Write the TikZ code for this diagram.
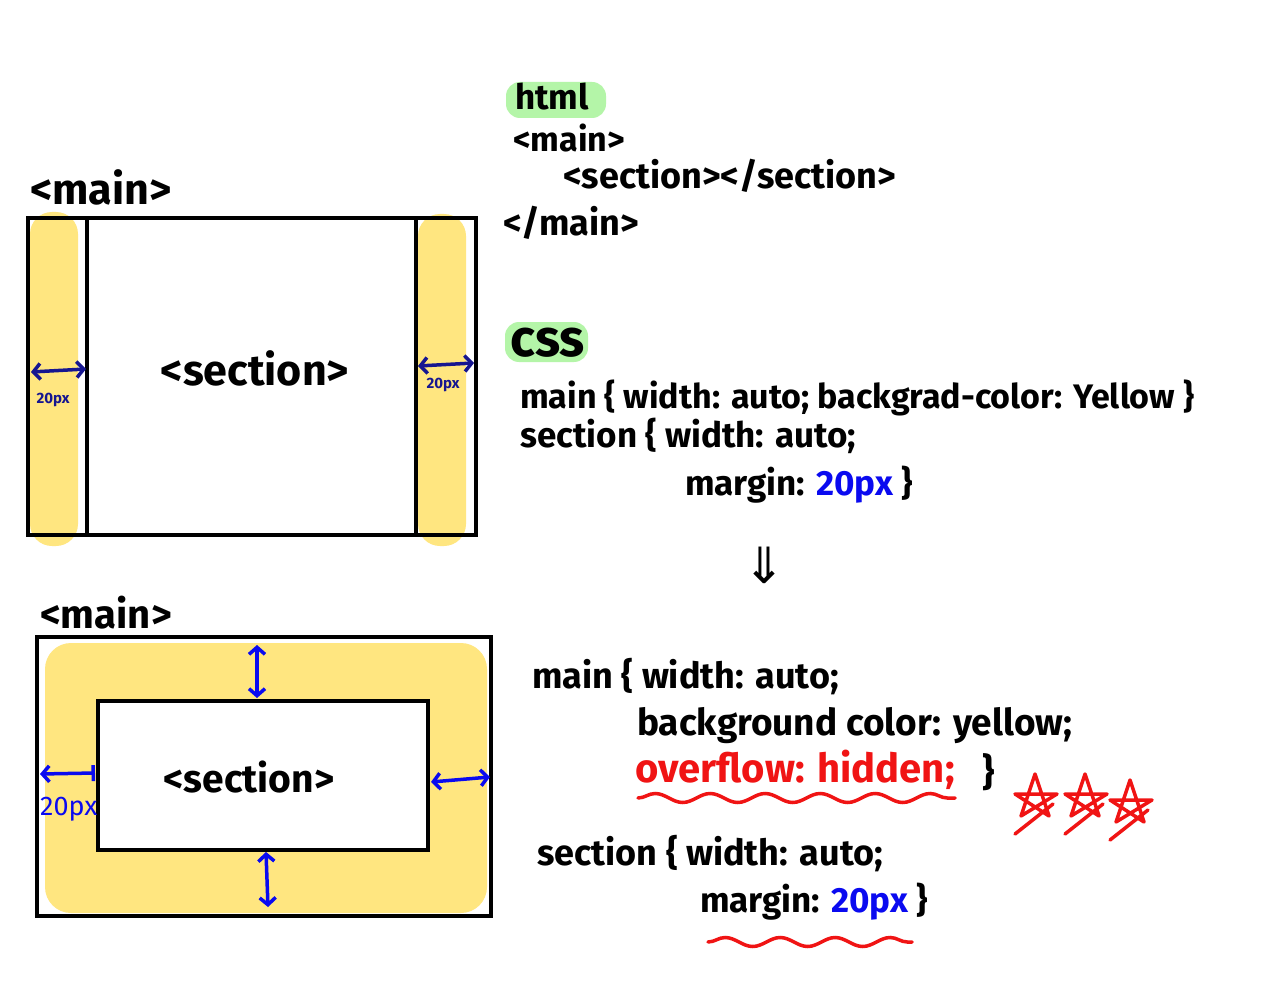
\documentclass[tikz,border=0pt]{standalone}
\usepackage{fontspec}
\setmainfont{Fira Sans}
\newfontfamily\dejavu{DejaVu Sans}
\usetikzlibrary{arrows.meta,decorations.pathmorphing,fit}
\definecolor{hlyellow}{HTML}{FFE680}
\definecolor{hlgreen}{HTML}{B4F5A8}
\definecolor{penblue}{HTML}{0A0AF0}
\definecolor{navy}{HTML}{161690}
\definecolor{penred}{HTML}{F01414}
\newcommand{\fs}[1]{\fontsize{#1}{#1}\selectfont\bfseries}
\begin{document}
\begin{tikzpicture}[x=1pt,y=-1pt,
  box/.style={draw=black,line width=4pt,inner sep=0pt},
  txt/.style={inner sep=0pt,anchor=base west},
  ctr/.style={inner sep=0pt,anchor=center},
  darr/.style={line width=3.5pt,{Straight Barb[length=7pt,width=16pt]}-{Straight Barb[length=7pt,width=16pt]}},
  hl/.style={rounded corners=14pt},
  wavy/.style={draw=penred,line width=3.5pt,line cap=round,decorate,decoration={snake,amplitude=4.5pt,segment length=55pt}},
  starpen/.style={draw=penred,line width=3.5pt,line cap=round,line join=round}]
\path[use as bounding box,fill=white] (0,0) rectangle (1282,1000);

% ---------- top-left diagram ----------
\node[txt] (mainlabel1) at (30,205) {\fs{43}<main>};
\fill[hlyellow,rounded corners=22pt] (30,212) rectangle (78,546);
\fill[hlyellow,rounded corners=22pt] (418,214) rectangle (466,546);
\node[box,fit={(28,218) (476,535)}] (main1) {};
\node[box,fit={(87,218) (416,535)}] (section1) {};
\node[ctr] (sectiontext1) at (255,368) {\fs{43}<section>};
\coordinate (l1a) at (31,372); \coordinate (l1b) at (86,369);
\coordinate (r1a) at (418,366); \coordinate (r1b) at (474,363);
\draw[darr,navy] (l1a) -- (l1b);
\draw[darr,navy] (r1a) -- (r1b);
\node[ctr,text=navy] (px1) at (53,400) {\fs{15}20px};
\node[ctr,text=navy] (px2) at (443,385) {\fs{15}20px};

% ---------- bottom-left diagram ----------
\node[txt] (mainlabel2) at (40,628) {\fs{40}<main>};
\fill[hlyellow,rounded corners=26pt] (45,643) rectangle (487,913);
\node[box,fit={(37,637) (491,916)}] (main2) {};
\node[box,fill=white,fit={(98,701) (428,850)}] (section2) {};
\node[ctr] (sectiontext2) at (249,777) {\fs{39}<section>};
\coordinate (t2a) at (257,645); \coordinate (t2b) at (257,698);
\coordinate (b2a) at (266,852); \coordinate (b2b) at (268,907);
\coordinate (l2a) at (40,774); \coordinate (l2b) at (95,773);
\coordinate (r2a) at (431,782); \coordinate (r2b) at (490,777);
\draw[darr,penblue] (t2a) -- (t2b);
\draw[darr,penblue] (b2a) -- (b2b);
\draw[line width=3.5pt,penblue,{Straight Barb[length=7pt,width=16pt]}-{Bar[width=16pt]}] (l2a) -- (l2b);
\draw[darr,penblue] (r2a) -- (r2b);
\node[txt,text=penblue] (px3) at (40,815) {\fontsize{27}{27}\selectfont 20px};

% ---------- html ----------
\fill[hlgreen,hl] (506,82) rectangle (606,118);
\node[txt] (html) at (515,110) {\fs{35}html};
\node[txt] (h1) at (513,152) {\fs{34}<main>};
\node[txt] (h2) at (563,189) {\fs{36}<section></section>};
\node[txt] (h3) at (503,236) {\fs{36}</main>};

% ---------- css ----------
\fill[hlgreen,hl] (505,322) rectangle (588,362);
\node[txt] (css) at (510,356) {\fs{52}css};
\node[txt] (c1) at (520,408) {\fs{34}main \{ width: auto; backgrad-color: Yellow \}};
\node[txt] (c2) at (520,447) {\fs{35}section \{ width: auto;};
\node[txt] (c3) at (685,495) {\fs{35}margin: \textcolor{penblue}{20px} \}};

\node[ctr] (down) at (764,565) {\dejavu\fontsize{50}{50}\selectfont ⇓};

% ---------- result css ----------
\node[txt] (d1) at (532,688) {\fs{36}main \{ width: auto;};
\node[txt] (d2) at (637,735) {\fs{37}background color: yellow;};
\node[txt,text=penred] (d3) at (635,782) {\fs{40}overflow: hidden;};
\node[txt] (d3b) at (982,785) {\fs{38}\}};
\draw[wavy] (638,798) -- (955,798);
\foreach \cx/\cy in {1035/802, 1085/802, 1130/808}{
  \draw[starpen] ({\cx},{\cy-28}) -- ({\cx+14},{\cy+14}) -- ({\cx-20},{\cy-8}) -- ({\cx+22},{\cy-8}) -- ({\cx-14},{\cy+14}) -- cycle;
  \draw[starpen] ({\cx-20},{\cy+32}) -- ({\cx+18},{\cy+2});
}
\node[txt] (d4) at (537,865) {\fs{36}section \{ width: auto;};
\node[txt] (d5) at (700,912) {\fs{35}margin: \textcolor{penblue}{20px} \}};
\draw[wavy] (708,942) -- (912,942);
\end{tikzpicture}
\end{document}
